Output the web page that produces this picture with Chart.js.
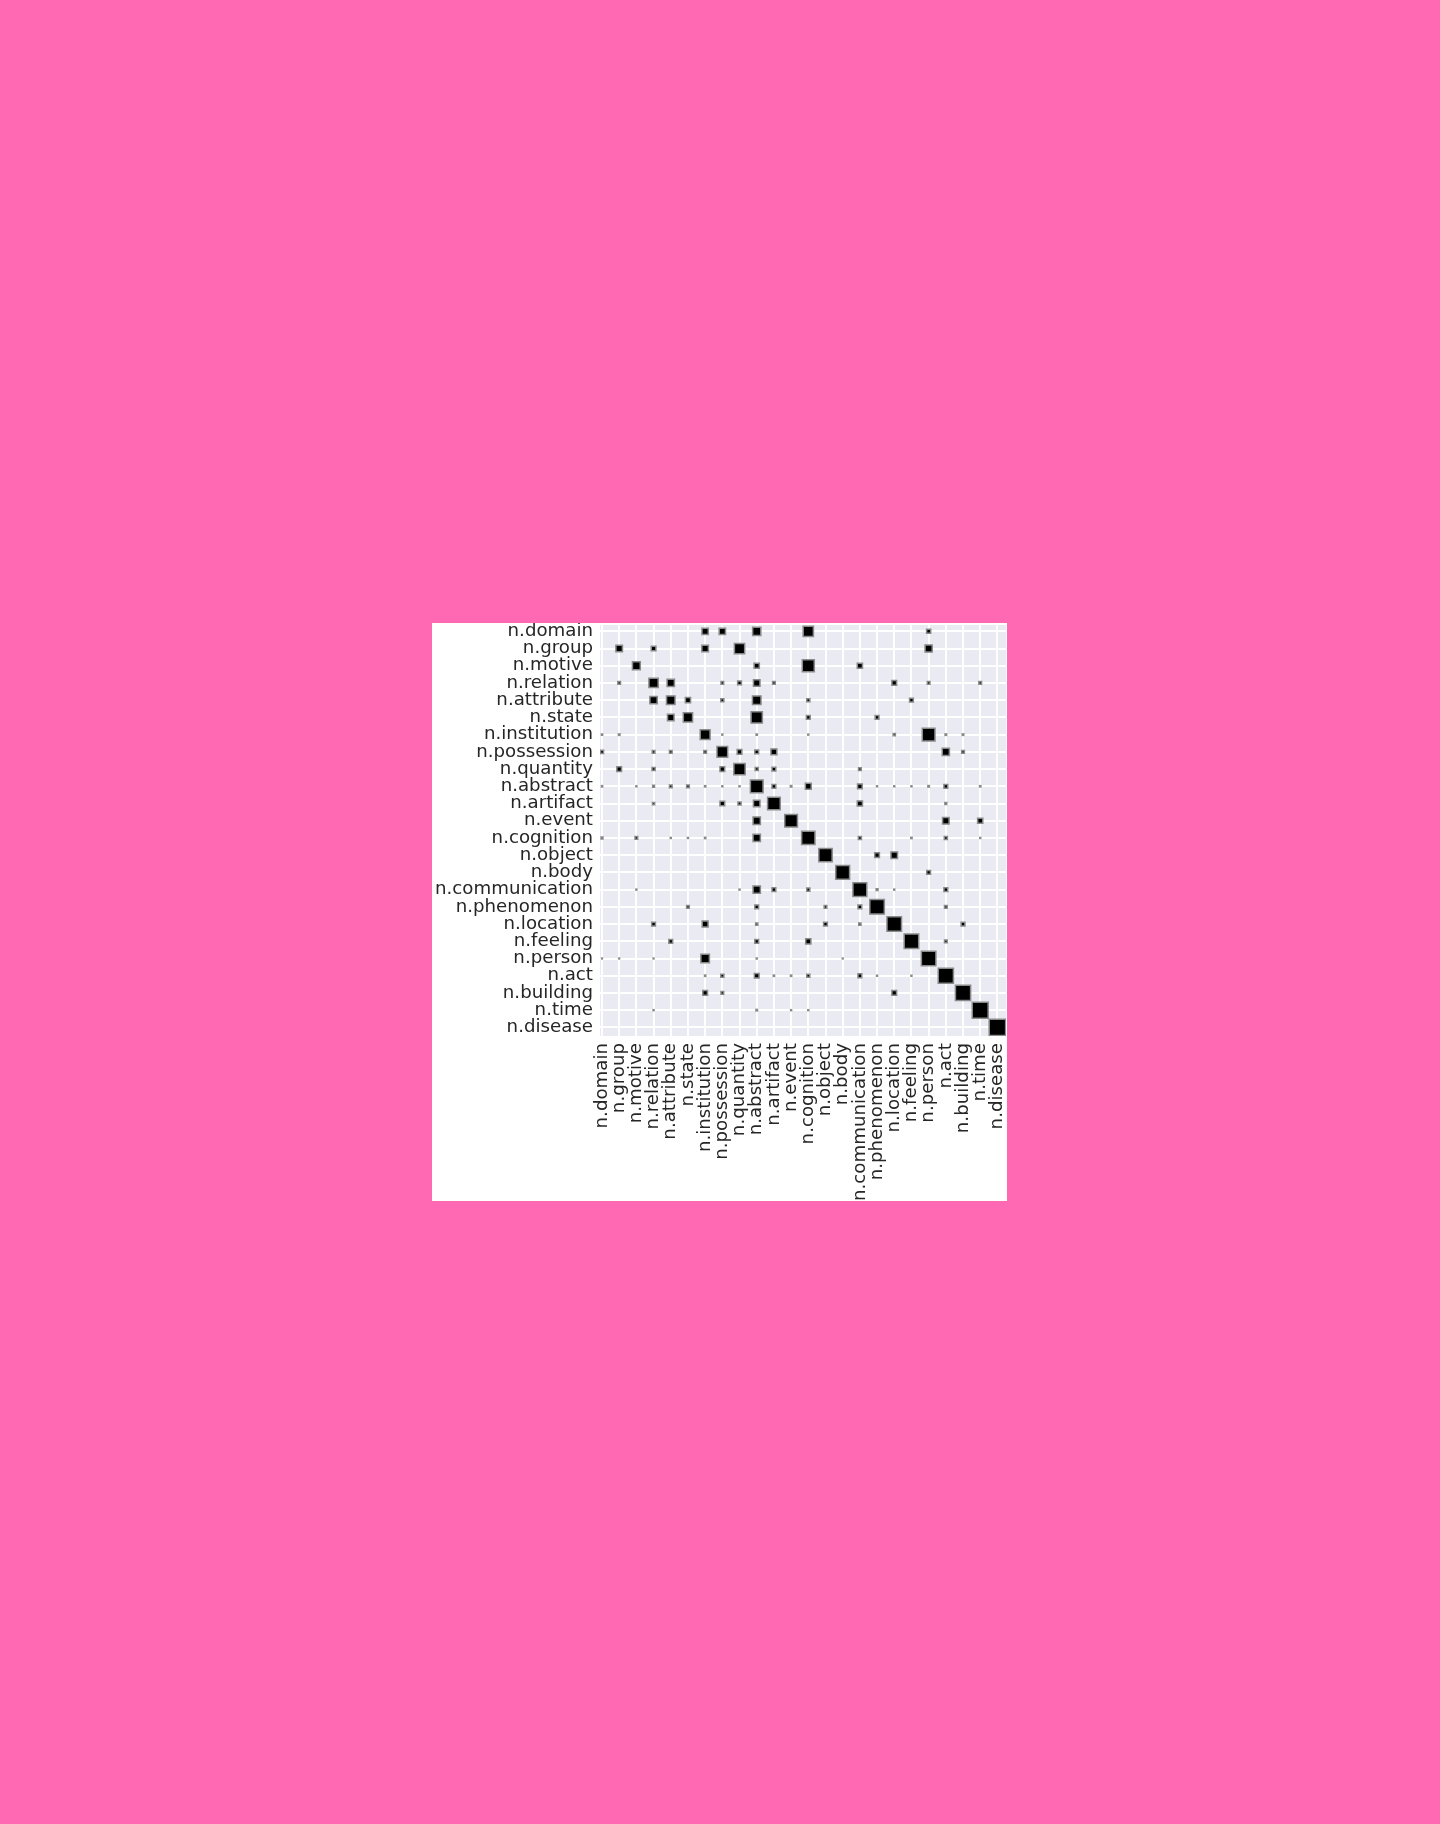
<!DOCTYPE html>
<html>
<head>
<meta charset="utf-8">
<script src="https://cdn.jsdelivr.net/npm/chart.js@4/dist/chart.umd.min.js"></script>
<style>
  html, body { margin: 0; padding: 0; }
  body { width: 1440px; height: 1824px; background: #FF69B4; position: relative; overflow: hidden; }
  #panel { position: absolute; left: 432px; top: 623px; width: 575px; height: 578px; background: #ffffff; }
  #c { display: block; }
</style>
</head>
<body>
<div id="panel"><canvas id="c" width="575" height="578"></canvas></div>
<script>
// Categories (rows top-to-bottom, columns left-to-right)
const categories = [
  "n.domain", "n.group", "n.motive", "n.relation", "n.attribute", "n.state",
  "n.institution", "n.possession", "n.quantity", "n.abstract", "n.artifact", "n.event",
  "n.cognition", "n.object", "n.body", "n.communication", "n.phenomenon", "n.location",
  "n.feeling", "n.person", "n.act", "n.building", "n.time", "n.disease"
];

// Hinton weights per row: [column index, weight] (weight relative to max = 1)
const rowDomain        = [[6,0.17],[7,0.17],[9,0.27],[12,0.41],[19,0.08]];
const rowGroup         = [[1,0.18],[3,0.10],[6,0.18],[8,0.41],[19,0.21]];
const rowMotive        = [[2,0.25],[9,0.12],[12,0.55],[15,0.12]];
const rowRelation      = [[1,0.04],[3,0.34],[4,0.22],[7,0.04],[8,0.07],[9,0.18],[10,0.04],[17,0.10],[19,0.04],[22,0.04]];
const rowAttribute     = [[3,0.22],[4,0.29],[5,0.12],[7,0.05],[9,0.29],[12,0.05],[18,0.07]];
const rowState         = [[4,0.18],[5,0.34],[9,0.49],[12,0.07],[16,0.07]];
const rowInstitution   = [[0,0.014],[1,0.017],[6,0.38],[7,0.01],[9,0.014],[12,0.01],[17,0.03],[19,0.61],[20,0.017],[21,0.017]];
const rowPossession    = [[0,0.05],[3,0.04],[4,0.04],[6,0.04],[7,0.44],[8,0.10],[9,0.07],[10,0.15],[20,0.21],[21,0.04]];
const rowQuantity      = [[1,0.10],[3,0.05],[7,0.10],[8,0.49],[9,0.05],[10,0.07],[15,0.04]];
const rowAbstract      = [[0,0.014],[2,0.01],[3,0.023],[4,0.04],[5,0.04],[6,0.014],[7,0.01],[8,0.01],[9,0.61],[10,0.07],[11,0.017],[12,0.15],[15,0.10],[16,0.01],[17,0.01],[18,0.01],[19,0.017],[20,0.07],[22,0.014]];
const rowArtifact      = [[3,0.03],[7,0.10],[8,0.05],[9,0.18],[10,0.61],[15,0.12],[20,0.023]];
const rowEvent         = [[9,0.22],[11,0.61],[20,0.18],[22,0.12]];
const rowCognition     = [[0,0.023],[2,0.04],[4,0.01],[5,0.01],[6,0.014],[9,0.22],[12,0.67],[15,0.05],[18,0.014],[20,0.05],[22,0.01]];
const rowObject        = [[13,0.67],[16,0.10],[17,0.18]];
const rowBody          = [[14,0.72],[19,0.07]];
const rowCommunication = [[2,0.01],[8,0.01],[9,0.22],[10,0.07],[12,0.05],[15,0.72],[16,0.023],[17,0.01],[20,0.07]];
const rowPhenomenon    = [[5,0.04],[9,0.07],[13,0.04],[15,0.07],[16,0.79],[20,0.04]];
const rowLocation      = [[3,0.07],[6,0.15],[9,0.03],[13,0.07],[15,0.03],[17,0.79],[21,0.07]];
const rowFeeling       = [[4,0.07],[9,0.07],[12,0.12],[18,0.79],[20,0.04]];
const rowPerson        = [[0,0.006],[1,0.006],[3,0.006],[6,0.29],[9,0.01],[14,0.006],[19,0.79]];
const rowAct           = [[6,0.014],[7,0.05],[9,0.10],[10,0.014],[11,0.014],[12,0.05],[15,0.07],[16,0.01],[18,0.01],[20,0.86]];
const rowBuilding      = [[6,0.10],[7,0.04],[17,0.10],[21,0.86]];
const rowTime          = [[3,0.01],[9,0.017],[11,0.01],[12,0.01],[22,0.94]];
const rowDisease       = [[23,1.0]];

const rows = [rowDomain,rowGroup,rowMotive,rowRelation,rowAttribute,rowState,rowInstitution,
  rowPossession,rowQuantity,rowAbstract,rowArtifact,rowEvent,rowCognition,rowObject,rowBody,
  rowCommunication,rowPhenomenon,rowLocation,rowFeeling,rowPerson,rowAct,rowBuilding,rowTime,rowDisease];

const points = [];
rows.forEach((entries, r) => entries.forEach(([c, w]) => points.push({x: c, y: r, w: w})));

const BORDER = 1.5;
const FONT = {family: "'DejaVu Sans', sans-serif", size: 18.2};
const TEXT = '#262626';

const bgPlugin = {
  id: 'plotBg',
  beforeDraw(chart) {
    const a = chart.chartArea, ctx = chart.ctx;
    ctx.save();
    ctx.fillStyle = '#EAEAF2';
    ctx.fillRect(a.left, a.top, a.right - a.left, a.bottom - a.top);
    ctx.restore();
  }
};

function integerTicks(scale) {
  scale.ticks = categories.map((_, i) => ({value: i}));
}

new Chart(document.getElementById('c'), {
  type: 'scatter',
  data: {
    datasets: [{
      data: points,
      pointStyle: 'rect',
      backgroundColor: '#000000',
      borderColor: '#8a8a8a',
      borderWidth: BORDER,
      pointRadius: (ctx) => {
        const p = ctx.raw;
        if (!p) return 0;
        const s = ctx.chart.scales.x;
        const cell = Math.abs(s.getPixelForValue(1) - s.getPixelForValue(0));
        const side = Math.max(Math.sqrt(p.w) * cell - BORDER / 2, 0.8);
        return side / Math.SQRT2;
      },
      pointHoverRadius: (ctx) => 0
    }]
  },
  options: {
    responsive: false,
    animation: false,
    events: [],
    layout: {padding: {left: 0, top: 2, right: 1, bottom: 0}},
    plugins: {legend: {display: false}, tooltip: {enabled: false}},
    scales: {
      x: {
        type: 'linear',
        min: -0.116,
        max: 23.5,
        afterBuildTicks: integerTicks,
        afterFit(scale) { scale.height = 165; scale.paddingLeft = 0; scale.paddingRight = 0; },
        grid: {color: '#ffffff', lineWidth: 1.9, drawTicks: false},
        border: {display: false},
        ticks: {
          autoSkip: false,
          minRotation: 90,
          maxRotation: 90,
          padding: 7,
          color: TEXT,
          font: FONT,
          callback: (v) => categories[v]
        }
      },
      y: {
        type: 'linear',
        reverse: true,
        min: -0.366,
        max: 23.5,
        afterBuildTicks: integerTicks,
        afterFit(scale) { scale.width = 168; scale.paddingTop = 0; scale.paddingBottom = 0; },
        grid: {color: '#ffffff', lineWidth: 1.9, drawTicks: false},
        border: {display: false},
        ticks: {
          autoSkip: false,
          padding: 7,
          color: TEXT,
          font: FONT,
          callback: (v) => categories[v]
        }
      }
    }
  },
  plugins: [bgPlugin]
});
</script>
</body>
</html>
